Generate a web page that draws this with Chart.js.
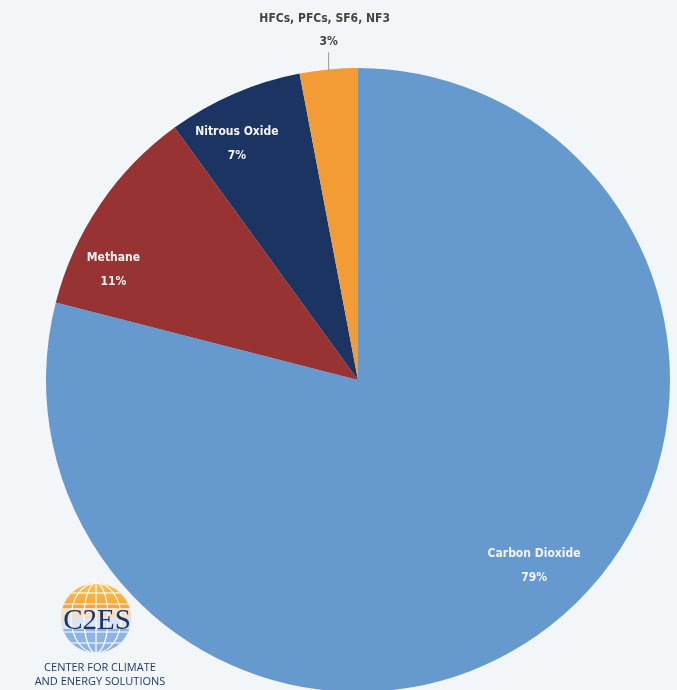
<!DOCTYPE html>
<html>
<head>
<meta charset="utf-8">
<script src="https://cdn.jsdelivr.net/npm/chart.js@4.4.1/dist/chart.umd.min.js"></script>
<style>
  html, body { margin: 0; padding: 0; width: 677px; height: 690px; overflow: hidden; background: #f3f6f9; }
  #pie { position: absolute; left: 0; top: 0; }
  #logo { position: absolute; left: 20px; top: 581px; width: 160px; text-align: center; color: #1f3a68;
          font-family: "Open Sans", "DejaVu Sans", sans-serif; }
  #logo .sub { font-size: 11px; line-height: 14px; margin-top: 0px; }
</style>
</head>
<body>
<canvas id="pie" width="716" height="760"></canvas>
<div id="logo">
  <svg width="160" height="74" viewBox="0 0 160 74">
    <defs>
      <clipPath id="g"><circle cx="76" cy="37" r="35"/></clipPath>
      <linearGradient id="top" x1="0" y1="0" x2="0" y2="1">
        <stop offset="0" stop-color="#f9c25a"/><stop offset="1" stop-color="#f39b2e"/>
      </linearGradient>
    </defs>
    <g clip-path="url(#g)">
      <rect x="30" y="0" width="92" height="37" fill="url(#top)"/>
      <rect x="30" y="37" width="92" height="40" fill="#8fb4e3"/>
      <g stroke="#ffffff" stroke-width="1.2" fill="none">
        <line x1="30" y1="12" x2="122" y2="12"/><line x1="30" y1="23" x2="122" y2="23"/>
        <line x1="30" y1="51" x2="122" y2="51"/><line x1="30" y1="62" x2="122" y2="62"/>
        <line x1="76" y1="0" x2="76" y2="78"/>
        <ellipse cx="76" cy="37" rx="12" ry="35"/><ellipse cx="76" cy="37" rx="25" ry="35"/>
      </g>
      <rect x="30" y="27" width="92" height="21" fill="#f3f6f9" opacity="0.75"/>
    </g>
    <text x="77" y="48" text-anchor="middle" font-family="Liberation Serif, DejaVu Serif, serif" font-size="29" fill="#1b3566">C2ES</text>
  </svg>
  <div class="sub">CENTER FOR CLIMATE<br>AND ENERGY SOLUTIONS</div>
</div>
<script>
const categories = ["Carbon Dioxide", "Methane", "Nitrous Oxide", "HFCs, PFCs, SF6, NF3"];
const shares = [79, 11, 7, 3];
const sliceColors = ["#6699cd", "#973333", "#1c3462", "#f39b35"];
// label placement: fraction of radius (0 = outside with leader line) and fraction across the slice
const labelRadius = [0.82, 0.86, 0.85, 0];
const labelSweep = [0.48, 0.25, 0.35, 0.5];

const FONT = '"Liberation Sans Narrow", "DejaVu Sans Condensed", "Roboto", sans-serif';

const sliceLabels = {
  id: "sliceLabels",
  afterDatasetsDraw(chart) {
    const ctx = chart.ctx;
    const meta = chart.getDatasetMeta(0);
    ctx.save();
    ctx.textAlign = "center";
    ctx.textBaseline = "middle";
    ctx.font = "bold 12px " + FONT;
    meta.data.forEach((arc, i) => {
      const p = arc.getProps(["x", "y", "startAngle", "endAngle", "outerRadius"], true);
      const a = p.startAngle + (p.endAngle - p.startAngle) * labelSweep[i];
      const pct = shares[i] + "%";
      if (labelRadius[i] > 0) {
        const r = p.outerRadius * labelRadius[i];
        const lx = p.x + Math.cos(a) * r;
        const ly = p.y + Math.sin(a) * r;
        ctx.fillStyle = "#f4f4f4";
        ctx.fillText(categories[i], lx, ly - 12);
        ctx.fillText(pct, lx, ly + 12);
      } else {
        const ex = p.x + Math.cos(a) * p.outerRadius;
        const ey = p.y + Math.sin(a) * p.outerRadius;
        ctx.strokeStyle = "#9a9a9a";
        ctx.lineWidth = 1;
        ctx.beginPath();
        ctx.moveTo(ex, ey + 1);
        ctx.lineTo(ex, ey - 17);
        ctx.stroke();
        ctx.fillStyle = "#444444";
        ctx.fillText(categories[i], ex - 4, ey - 51);
        ctx.fillText(pct, ex, ey - 28);
      }
    });
    ctx.restore();
  }
};

new Chart(document.getElementById("pie"), {
  type: "pie",
  data: {
    labels: categories,
    datasets: [{
      data: shares,
      backgroundColor: sliceColors,
      borderWidth: 0
    }]
  },
  options: {
    responsive: false,
    animation: false,
    layout: { padding: { left: 46, top: 68, right: 46, bottom: 68 } },
    plugins: {
      legend: { display: false },
      tooltip: { enabled: false }
    }
  },
  plugins: [sliceLabels]
});
</script>
</body>
</html>
